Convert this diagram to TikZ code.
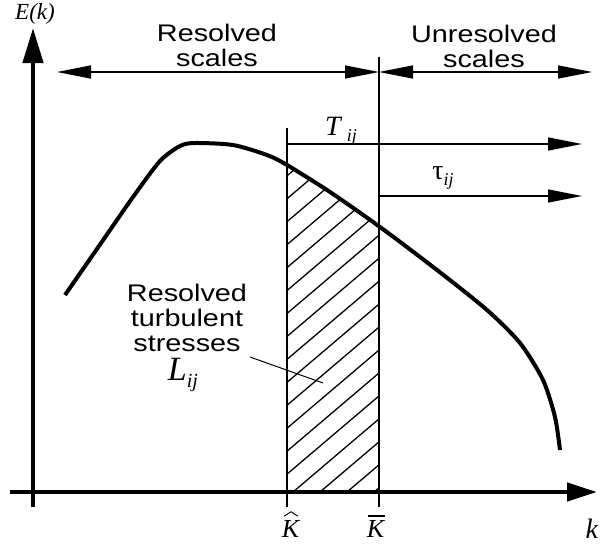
\documentclass[tikz,border=0pt]{standalone}
\usepackage{fontspec}
\setmainfont{Liberation Serif}
\newfontfamily\widesans[FakeStretch=1.2]{Liberation Sans}
\usetikzlibrary{arrows.meta}
\newcommand{\hatK}{\leavevmode\hbox{\ooalign{\textit{K}\cr\hidewidth\raisebox{0.78em}{\tikz[x=1pt,y=1pt]\draw[line width=0.9pt,line join=miter] (0,0) -- (7,4.5) -- (14,0);}\hidewidth\cr}}}
\newcommand{\barK}{\leavevmode\hbox{\ooalign{\textit{K}\cr\hidewidth\raisebox{0.78em}{\tikz[x=1pt,y=1pt]\draw[line width=1.4pt] (0,0) -- (17,0);}\hidewidth\cr}}}
\begin{document}
\begin{tikzpicture}[x=1pt,y=-1pt,
  axis/.style={line width=4.5pt},
  thinline/.style={line width=1.5pt},
  hatchline/.style={line width=1.3pt},
  curveline/.style={line width=4pt},
  thinarrow/.style={thinline,-{Triangle[length=34pt,width=13pt]}},
  dblarrow/.style={thinline,{Triangle[length=34pt,width=13pt]}-{Triangle[length=34pt,width=13pt]}},
  sanslbl/.style={font=\widesans\fontsize{24}{25}\selectfont, align=center, inner sep=0pt},
  mathlbl/.style={font=\fontsize{28}{28}\selectfont, inner sep=0pt},
  klbl/.style={font=\fontsize{26}{26}\selectfont, inner sep=0pt},
]
\useasboundingbox (0,0) rectangle (600,544);

% coordinates
\coordinate (va0) at (33,507);
\coordinate (va1) at (33,28);
\coordinate (ha0) at (10,492);
\coordinate (ha1) at (597,492);
\coordinate (kh0) at (287,507);
\coordinate (kh1) at (287,128);
\coordinate (kb0) at (379,507);
\coordinate (kb1) at (379,57);
\coordinate (r0) at (57,72);
\coordinate (r1) at (379,72);
\coordinate (u1) at (592,72);
\coordinate (t0) at (287,144);
\coordinate (t1) at (582,144);
\coordinate (s0) at (379,196);
\coordinate (s1) at (582,196);
\coordinate (lead0) at (250,357);
\coordinate (lead1) at (323,383);

\def\curvepts{(65,295) (99,246) (133,197) (160,161) (180,146) (195,143) (233,145) (267,155) (287,165) (330,192) (380,227) (437,270) (487,310) (520,343) (543,380) (555,417) (560,450)}

% hatching
\begin{scope}
  \clip plot[smooth,tension=0.45] coordinates {\curvepts} -- (560,492) -- (65,492) -- cycle;
  \clip (287,0) rectangle (379,492);
  \foreach \k in {-18,...,4}
    \draw[hatchline] ({293+27*\k},492) -- ({293+27*\k+600},{492-510});
\end{scope}

% curve
\draw[curveline] plot[smooth,tension=0.45] coordinates {\curvepts};

% axes
\draw[axis,-{Triangle[length=35pt,width=20pt]}] (va0) -- (va1);
\draw[axis,-{Triangle[length=30pt,width=18pt]}] (ha0) -- (ha1);

% vertical cut lines
\draw[thinline] (kh0) -- (kh1);
\draw[thinline] (kb0) -- (kb1);

% arrows
\draw[dblarrow] (r0) -- (r1);
\draw[dblarrow] (r1) -- (u1);
\draw[thinarrow] (t0) -- (t1);
\draw[thinarrow] (s0) -- (s1);
\draw[line width=1pt] (lead0) -- (lead1);

% labels
\node[font=\fontsize{23}{23}\selectfont\itshape, inner sep=0pt] (Ek) at (35,14) {E(k)};
\node[sanslbl] (res) at (217,45) {Resolved\\scales};
\node[sanslbl] (unres) at (484,46) {Unresolved\\scales};
\node[sanslbl] (rts) at (187,318) {Resolved\\turbulent\\stresses};
\node[mathlbl] (T) at (341,131) {\textit{T}\,\raisebox{-0.45ex}{\fontsize{18}{18}\selectfont\textit{ij}}};
\node[mathlbl] (tau) at (443,178) {τ\raisebox{-0.45ex}{\fontsize{18}{18}\selectfont\textit{ij}}};
\node[font=\fontsize{34}{34}\selectfont, inner sep=0pt] (L) at (183,375) {\textit{L}\raisebox{-0.45ex}{\fontsize{20}{20}\selectfont\textit{ij}}};
\node[klbl, anchor=base] (Kh) at (291,537) {\hatK};
\node[klbl, anchor=base] (Kb) at (376,537) {\barK};
\node[mathlbl] (k) at (592,529) {\textit{k}};
\end{tikzpicture}
\end{document}
